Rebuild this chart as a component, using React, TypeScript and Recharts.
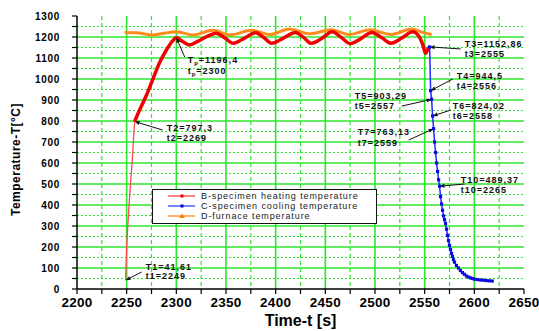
import React from "react";
import {
  CartesianGrid,
  Label,
  Legend,
  Line,
  LineChart,
  ReferenceLine,
  XAxis,
  YAxis,
} from "recharts";

// B - specimen heating
const heatTime = [
  2249, 2250, 2251, 2252, 2253, 2254, 2255, 2256, 2257, 2258, 2263, 2270, 2276,
  2283, 2290, 2296, 2300, 2306, 2313, 2322, 2332, 2340, 2349, 2357, 2367, 2380,
  2388, 2396, 2406, 2420, 2428, 2436, 2446, 2457, 2466, 2475, 2485, 2497, 2507,
  2516, 2527, 2538, 2544, 2548, 2551, 2553, 2555,
];
const heatTemp = [
  41.61, 200, 290, 370, 440, 510, 575, 640, 720, 797.3, 852, 924, 995, 1076,
  1138, 1180, 1196.4, 1180, 1162, 1180, 1205, 1218, 1195, 1170, 1190, 1220,
  1198, 1170, 1190, 1222, 1198, 1170, 1192, 1225, 1198, 1168, 1190, 1222, 1196,
  1170, 1195, 1225, 1205, 1165, 1122, 1140, 1152.86,
];

// C - specimen cooling
const coolTime = [
  2555, 2556, 2557, 2558, 2559, 2560, 2561, 2562, 2563, 2564, 2565, 2566, 2567,
  2568, 2569, 2570, 2571, 2572, 2573, 2574, 2575, 2576, 2577, 2578, 2579, 2580,
  2582, 2584, 2586, 2588, 2590, 2592, 2594, 2596, 2598, 2600, 2603, 2606, 2609,
  2612, 2615, 2618,
];
const coolTemp = [
  1152.86, 944.5, 903.29, 824.02, 763.13, 700, 650, 600, 560, 520, 489.37, 440,
  405, 375, 348, 330, 312, 285, 255, 230, 208, 188, 170, 155, 140, 128, 112,
  100, 88, 78, 70, 62, 57, 53, 50, 47, 45, 43, 42, 40, 39, 38,
];

// D - furnace
const furnaceTime = [
  2248, 2260, 2275, 2288, 2300, 2317, 2337, 2354, 2376, 2394, 2414, 2434, 2456,
  2474, 2495, 2516, 2537, 2548, 2557,
];
const furnaceTemp = [
  1222, 1220, 1210, 1218, 1225, 1210, 1232, 1210, 1232, 1212, 1238, 1215, 1235,
  1212, 1235, 1212, 1238, 1222, 1212,
];

const seriesNames = [
  "B-specimen heating temperature",
  "C-specimen cooling temperature",
  "D-furnace temperature",
];

const xMajor = [2200, 2250, 2300, 2350, 2400, 2450, 2500, 2550, 2600, 2650];
const xMinor = [2225, 2275, 2325, 2375, 2425, 2475, 2525, 2575, 2625];
const yMajor = [0, 100, 200, 300, 400, 500, 600, 700, 800, 900, 1000, 1100, 1200, 1300];
const yMinor = [50, 150, 250, 350, 450, 550, 650, 750, 850, 950, 1050, 1150, 1250];

const heatData = heatTime.map((t, i) => ({ t, T: heatTemp[i] }));
const coolData = coolTime.map((t, i) => ({ t, T: coolTemp[i] }));
const furnaceData = furnaceTime.map((t, i) => ({ t, T: furnaceTemp[i] }));
const heatRise = heatData.slice(0, 10);
const heatMain = heatData.slice(9);

const FONT = '"Liberation Sans", Arial, sans-serif';
const GREEN = "#2ee62e";

const XTick = (props: any) => {
  const { x, y, payload } = props;
  if (!xMajor.includes(payload.value)) return <g />;
  return (
    <text x={x} y={y} dy="0.71em" textAnchor="middle" fontSize={13.5} fontWeight="bold" letterSpacing={0.3} fill="#000" fontFamily={FONT}>
      {payload.value}
    </text>
  );
};

const YTick = (props: any) => {
  const { x, y, payload } = props;
  if (!yMajor.includes(payload.value)) return <g />;
  return (
    <text x={x} y={y} dy="0.36em" textAnchor="end" fontSize={10} fontWeight="bold" letterSpacing={0.7} fill="#000" fontFamily={FONT}>
      {payload.value}
    </text>
  );
};

const BlueDot = (p: any) => (
  <rect key={`d${p.index}`} x={p.cx - 1.6} y={p.cy - 1.6} width={3.2} height={3.2} fill="#0a0ae6" />
);

// arrow from label (tail) to data point (head) with the label text
const makeArrow =
  (lines: React.ReactNode[], dx: number, dys: number[]) => (props: any) => {
    const { x1, y1, x2, y2 } = props;
    const len = Math.hypot(x2 - x1, y2 - y1) || 1;
    const ux = (x2 - x1) / len;
    const uy = (y2 - y1) / len;
    const bx = x2 - ux * 5;
    const by = y2 - uy * 5;
    const nx = -uy * 2;
    const ny = ux * 2;
    return (
      <g>
        <line x1={x1} y1={y1} x2={bx} y2={by} stroke="#111" strokeWidth={1} />
        <polygon points={`${x2},${y2} ${bx + nx},${by + ny} ${bx - nx},${by - ny}`} fill="#111" />
        {lines.map((l, i) => (
          <text key={i} x={x1 + dx} y={y1 + dys[i]} fontSize={9} fontWeight="bold" letterSpacing={1} fill="#111" fontFamily={FONT}>
            {l}
          </text>
        ))}
      </g>
    );
  };

const renderLegend = () => {
  const cols = [
    { line: "#ff5c5c", mark: "#e00000", tri: false },
    { line: "#4a5cff", mark: "#0000dd", tri: false },
    { line: "#ff9a3c", mark: "#ff8000", tri: true },
  ];
  return (
    <div style={{ width: 223, height: 32, border: "1.5px solid #111", background: "#fff", paddingTop: 1, fontFamily: FONT }}>
      {seriesNames.map((name, i) => (
        <div key={name} style={{ height: 10, display: "flex", alignItems: "center" }}>
          <svg width={48} height={10}>
            <line x1={15} y1={5} x2={42} y2={5} stroke={cols[i].line} strokeWidth={1.5} />
            {cols[i].tri ? (
              <polygon points="29,2.5 32,7 26,7" fill={cols[i].mark} />
            ) : (
              <rect x={27.5} y={3.5} width={3} height={3} fill={cols[i].mark} />
            )}
          </svg>
          <span style={{ fontSize: 9, letterSpacing: 0.9, color: "#222", lineHeight: "10px" }}>{name}</span>
        </div>
      ))}
    </div>
  );
};

const App = () => {
  return (
    <div style={{ position: "absolute", left: 0, top: 0, fontFamily: FONT }}>
      <LineChart width={539} height={331} margin={{ top: 16, right: 15, left: 27, bottom: 12 }}>
        <CartesianGrid horizontal={false} verticalValues={xMinor} stroke={GREEN} strokeWidth={1.2} strokeDasharray="4 3" />
        <CartesianGrid vertical={false} horizontalValues={yMinor} stroke={GREEN} strokeWidth={1.2} strokeDasharray="2 2" />
        <CartesianGrid
          verticalValues={xMajor.slice(1, -1)}
          horizontalValues={yMajor.slice(1, -1)}
          stroke={GREEN}
          strokeWidth={1.6}
        />
        <XAxis
          type="number"
          dataKey="t"
          domain={[2200, 2650]}
          ticks={[...xMajor, ...xMinor].sort((a, b) => a - b)}
          interval={0}
          tick={<XTick />}
          tickSize={5}
          tickMargin={3}
          height={30}
          stroke="#000"
          axisLine={{ stroke: "#000", strokeWidth: 1.5 }}
          tickLine={{ stroke: "#000", strokeWidth: 1.2 }}
          allowDataOverflow
        >
          <Label
            content={({ viewBox }: any) => (
              <text x={viewBox.x + viewBox.width / 2} y={viewBox.y + 37} textAnchor="middle" fontSize={16} fontWeight="bold" fill="#000" fontFamily={FONT}>
                Time-t [s]
              </text>
            )}
          />
        </XAxis>
        <YAxis
          type="number"
          dataKey="T"
          domain={[0, 1300]}
          ticks={[...yMajor, ...yMinor].sort((a, b) => a - b)}
          interval={0}
          tick={<YTick />}
          tickSize={5}
          tickMargin={12}
          width={50}
          axisLine={{ stroke: "#000", strokeWidth: 1.5 }}
          tickLine={{ stroke: "#000", strokeWidth: 1.2 }}
          allowDataOverflow
        >
          <Label
            content={({ viewBox }: any) => {
              const cy = viewBox.y + viewBox.height / 2 + 7;
              return (
                <text x={20} y={cy} transform={`rotate(-90 20 ${cy})`} textAnchor="middle" fontSize={12} fontWeight="bold" letterSpacing={0.5} fill="#000" fontFamily={FONT}>
                  Temperature-T[°C]
                </text>
              );
            }}
          />
        </YAxis>

        <Line data={furnaceData} dataKey="T" type="monotone" stroke="#ff8c1a" strokeWidth={3} dot={false} isAnimationActive={false} name={seriesNames[2]} />
        <Line data={heatRise} dataKey="T" type="linear" stroke="#ff4a4a" strokeWidth={1.3} dot={false} isAnimationActive={false} legendType="none" />
        <Line data={heatMain} dataKey="T" type="monotone" stroke="#f00000" strokeWidth={3.5} dot={false} isAnimationActive={false} name={seriesNames[0]} />
        <Line data={coolData} dataKey="T" type="linear" stroke="#1f2cff" strokeWidth={1.5} dot={BlueDot} isAnimationActive={false} name={seriesNames[1]} />

        <ReferenceLine segment={[{ x: 2265.1, y: 81 }, { x: 2249, y: 41.61 }]} shape={makeArrow(["T1=41,61", "t1=2249"], 4, [-2, 7])} />
        <ReferenceLine segment={[{ x: 2286.3, y: 757 }, { x: 2258, y: 797.3 }]} shape={makeArrow(["T2=797,3", "t2=2269"], 4, [1, 11])} />
        <ReferenceLine
          segment={[{ x: 2308.4, y: 1105 }, { x: 2300, y: 1196.4 }]}
          shape={makeArrow(
            [
              <>T<tspan dy={2.5} fontSize={6}>p</tspan><tspan dy={-2.5}>=1196,4</tspan></>,
              <>t<tspan dy={2.5} fontSize={6}>p</tspan><tspan dy={-2.5}>=2300</tspan></>,
            ],
            3,
            [6, 17],
          )}
        />
        <ReferenceLine segment={[{ x: 2586.3, y: 1143 }, { x: 2555, y: 1152.86 }]} shape={makeArrow(["T3=1152,86", "t3=2555"], 4, [-1.5, 8])} />
        <ReferenceLine segment={[{ x: 2578.2, y: 1000 }, { x: 2556, y: 944.5 }]} shape={makeArrow(["T4=944,5", "t4=2556"], 4, [0, 10])} />
        <ReferenceLine segment={[{ x: 2526.9, y: 871 }, { x: 2557, y: 903.29 }]} shape={makeArrow(["T5=903,29", "t5=2557"], -47, [-7.5, 2.5])} />
        <ReferenceLine segment={[{ x: 2576.2, y: 852 }, { x: 2558, y: 824.02 }]} shape={makeArrow(["T6=824,02", "t6=2558"], 2, [-1.5, 9])} />
        <ReferenceLine segment={[{ x: 2533.9, y: 709.5 }, { x: 2559, y: 763.13 }]} shape={makeArrow(["T7=763,13", "t7=2559"], -51, [-5, 6])} />
        <ReferenceLine segment={[{ x: 2590.3, y: 500 }, { x: 2565, y: 489.37 }]} shape={makeArrow(["T10=489,37", "t10=2265"], -4, [-1.5, 9])} />

        <Legend
          layout="vertical"
          align="center"
          verticalAlign="middle"
          content={renderLegend}
          wrapperStyle={{ left: 152, top: 189, width: 227, height: 36 }}
        />
      </LineChart>
    </div>
  );
};

export default App;
